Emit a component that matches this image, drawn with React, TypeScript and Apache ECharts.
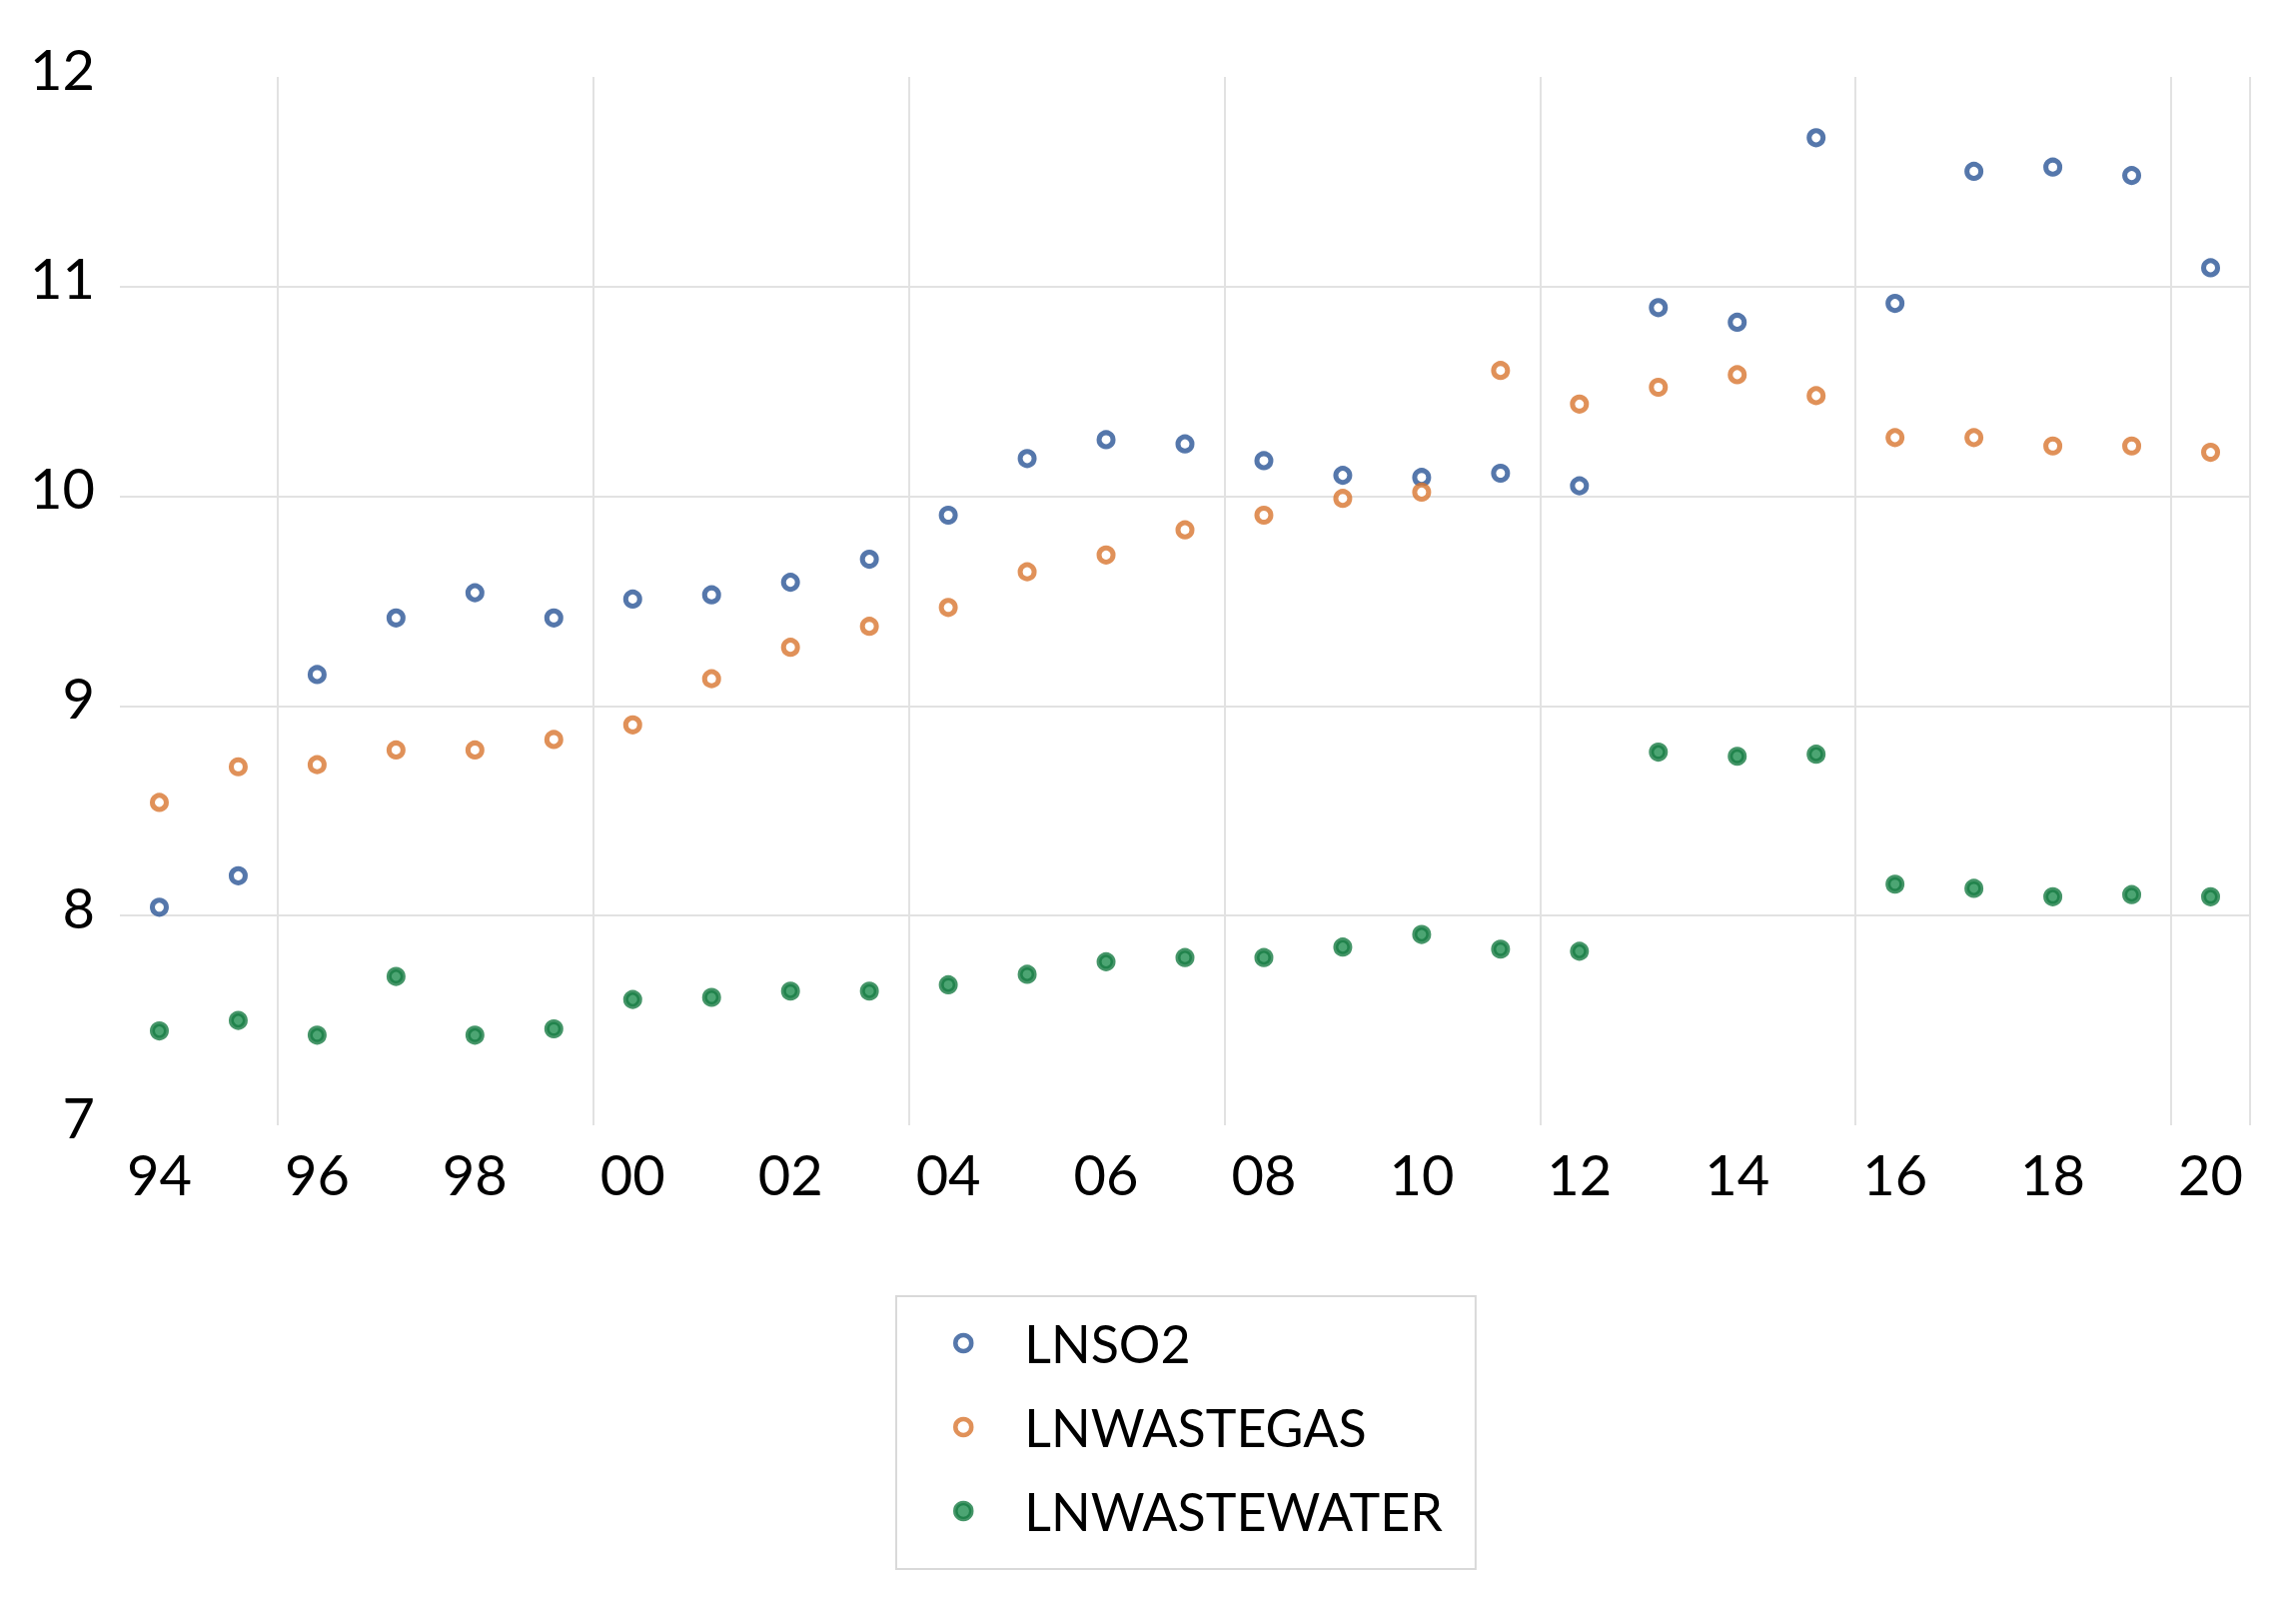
import React, { useEffect, useRef } from 'react';
import * as echarts from 'echarts';

const years = ['94', '95', '96', '97', '98', '99', '00', '01', '02', '03', '04', '05', '06', '07', '08', '09', '10', '11', '12', '13', '14', '15', '16', '17', '18', '19', '20'];

const lnso2 = [8.04, 8.19, 9.15, 9.42, 9.54, 9.42, 9.51, 9.53, 9.59, 9.70, 9.91, 10.18, 10.27, 10.25, 10.17, 10.10, 10.09, 10.11, 10.05, 10.90, 10.83, 11.71, 10.92, 11.55, 11.57, 11.53, 11.09];

const lnwastegas = [8.54, 8.71, 8.72, 8.79, 8.79, 8.84, 8.91, 9.13, 9.28, 9.38, 9.47, 9.64, 9.72, 9.84, 9.91, 9.99, 10.02, 10.60, 10.44, 10.52, 10.58, 10.48, 10.28, 10.28, 10.24, 10.24, 10.21];

const lnwastewater = [7.45, 7.50, 7.43, 7.71, 7.43, 7.46, 7.60, 7.61, 7.64, 7.64, 7.67, 7.72, 7.78, 7.80, 7.80, 7.85, 7.91, 7.84, 7.83, 8.78, 8.76, 8.77, 8.15, 8.13, 8.09, 8.10, 8.09];

const seriesNames = ['LNSO2', 'LNWASTEGAS', 'LNWASTEWATER'];

const yMin = 7;
const yMax = 12;
const yStep = 1;

const FONT = 'Lato';

export default function App() {
  const ref = useRef<HTMLDivElement>(null);

  useEffect(() => {
    const chart = echarts.init(ref.current as HTMLDivElement, null, { renderer: 'svg' });
    const mk = (name: string, data: number[], border: string, fill: string, bw: number) => ({
      name,
      type: 'scatter',
      data,
      symbol: 'circle',
      symbolSize: 14,
      itemStyle: { color: fill, borderColor: border, borderWidth: bw },
      emphasis: { disabled: true },
    });
    chart.setOption({
      animation: false,
      backgroundColor: '#ffffff',
      grid: { left: 120, right: 46, top: 77, bottom: 472, containLabel: false },
      xAxis: {
        type: 'category',
        data: years,
        boundaryGap: true,
        axisLine: { show: false },
        axisTick: { show: false },
        axisLabel: {
          interval: 1,
          fontFamily: FONT,
          fontSize: 56,
          color: '#000',
          margin: 20,
        },
        splitLine: {
          show: true,
          interval: (index: number) => index % 4 === 2,
          lineStyle: { color: '#e2e2e2', width: 2 },
        },
      },
      yAxis: {
        type: 'value',
        min: yMin,
        max: yMax,
        interval: yStep,
        axisLine: { show: false },
        axisTick: { show: false },
        axisLabel: {
          fontFamily: FONT,
          fontSize: 56,
          color: '#000',
          margin: 25,
          verticalAlign: 'bottom',
          lineHeight: 18,
        },
        splitLine: {
          show: true,
          showMinLine: false,
          showMaxLine: false,
          lineStyle: { color: '#e2e2e2', width: 2 },
        },
      },
      legend: {
        data: seriesNames,
        orient: 'vertical',
        left: 897,
        top: 1297,
        padding: [17, 33, 28, 57],
        itemGap: 24,
        itemWidth: 16,
        itemHeight: 16,
        borderColor: '#d9d9d9',
        borderWidth: 2,
        backgroundColor: '#ffffff',
        itemStyle: { borderWidth: 4.5 },
        textStyle: {
          fontFamily: FONT,
          fontSize: 52,
          color: '#000',
          lineHeight: 60,
          padding: [0, 0, 0, 48],
        },
      },
      series: [
        mk(seriesNames[0], lnso2, '#2B5596', '#ffffff', 5),
        mk(seriesNames[1], lnwastegas, '#D8762F', '#ffffff', 5),
        mk(seriesNames[2], lnwastewater, '#167A42', '#1f8f50', 5),
      ],
    });
    return () => chart.dispose();
  }, []);

  return (
    <div
      ref={ref}
      style={{ position: 'fixed', left: 0, top: 0, width: 2298, height: 1598, background: '#fff' }}
    />
  );
}
